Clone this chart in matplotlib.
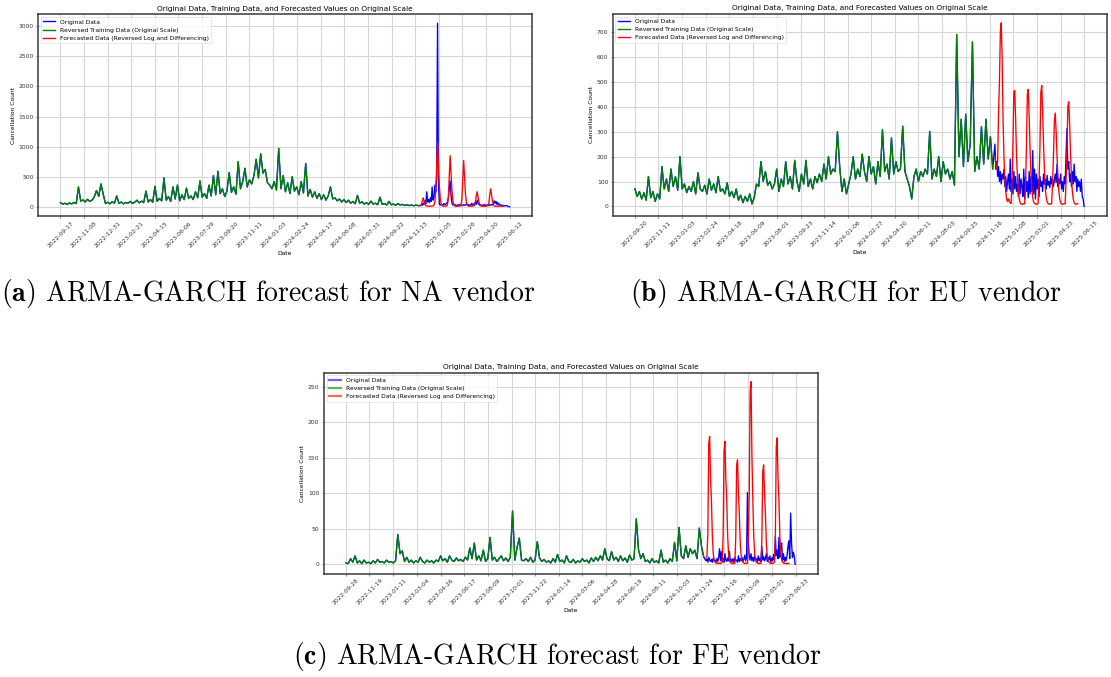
import numpy as np
import pandas as pd
import matplotlib
matplotlib.use("Agg")
import matplotlib.pyplot as plt
from matplotlib.ticker import MultipleLocator

plt.rcParams['mathtext.fontset'] = 'cm'

TITLE = "Original Data, Training Data, and Forecasted Values on Original Scale"
LABELS = ["Original Data", "Reversed Training Data (Original Scale)",
          "Forecasted Data (Reversed Log and Differencing)"]

# ---------------- (a) NA vendor ----------------
na_start = "2022-09-17"
na_ticks = ["2022-09-17", "2022-11-08", "2022-12-31", "2023-02-21", "2023-04-15",
            "2023-06-06", "2023-07-29", "2023-09-20", "2023-11-11", "2024-01-03",
            "2024-02-24", "2024-04-17", "2024-06-08", "2024-07-31", "2024-09-22",
            "2024-11-13", "2025-01-05", "2025-02-26", "2025-04-20", "2025-06-12"]
# training values, every 5 days
na_train = [70, 45, 60, 38, 65, 48, 72, 55, 330, 95,
            115, 80, 125, 90, 110, 160, 270, 175, 380, 210,
            55, 75, 50, 85, 60, 180, 55, 80, 50, 72,
            60, 90, 55, 75, 110, 65, 95, 70, 260, 80,
            120, 75, 340, 90, 140, 100, 480, 110, 170, 90,
            330, 130, 360, 100, 200, 120, 310, 140, 180, 120,
            250, 150, 430, 160, 220, 140, 360, 180, 520, 200,
            590, 220, 300, 170, 260, 570, 240, 330, 210, 750,
            300, 420, 640, 330, 450, 380, 520, 790, 480, 880,
            560, 620, 400, 360, 300, 420, 280, 970, 300, 520,
            250, 400, 220, 500, 260, 330, 200, 420, 230, 720,
            180, 290, 160, 250, 140, 220, 120, 200, 110, 180,
            330, 130, 150, 100, 130, 80, 120, 70, 110, 60,
            90, 50, 190, 60, 85, 45, 70, 40, 95, 45,
            60, 35, 160, 40, 55, 30, 90, 35, 45, 25,
            55, 30, 40, 22, 35, 20, 30, 18, 28, 20]
# test (original) values, every 2 days
na_test = [20, 35, 25, 60, 40, 100, 50, 250, 80, 120,
           70, 150, 90, 330, 110, 150, 360, 250, 500, 3050,
           400, 45, 30, 40, 25, 30, 55, 35, 45, 60,
           80, 150, 300, 430, 180, 60, 30, 40, 25, 35,
           20, 30, 25, 40, 20, 30, 25, 20, 35, 25,
           30, 45, 25, 40, 20, 35, 25, 60, 30, 45,
           50, 80, 40, 110, 60, 40, 25, 35, 20, 30,
           25, 40, 20, 30, 25, 30, 20, 35, 25, 40,
           30, 45, 100, 60, 90, 40, 70, 30, 45, 25,
           30, 20, 25, 15, 20, 15, 20, 10, 5, 0]
# forecast values, every 2 days
na_fc = [20, 40, 90, 150, 100, 40, 20, 15, 12, 10,
         10, 12, 10, 12, 15, 30, 80, 250, 650, 1070,
         700, 350, 150, 50, 20, 12, 10, 12, 10, 15,
         30, 150, 500, 850, 550, 280, 100, 40, 15, 10,
         10, 12, 10, 12, 15, 30, 120, 450, 770, 500,
         220, 80, 30, 15, 10, 10, 12, 10, 12, 15,
         20, 60, 180, 250, 160, 80, 35, 15, 10, 8,
         10, 8, 10, 12, 15, 20, 60, 200, 300, 200,
         100, 40, 15, 10, 8, 10, 8, 10, 12, 10,
         10, 12, 10]

# ---------------- (b) EU vendor ----------------
eu_start = "2022-09-20"
eu_ticks = ["2022-09-20", "2022-11-11", "2023-01-03", "2023-02-24", "2023-04-18",
            "2023-06-09", "2023-08-01", "2023-09-23", "2023-11-14", "2024-01-06",
            "2024-02-27", "2024-04-20", "2024-06-11", "2024-08-03", "2024-09-25",
            "2024-11-16", "2025-01-08", "2025-03-01", "2025-04-23", "2025-06-15"]
eu_train = [70, 40, 60, 30, 55, 25, 120, 35, 60, 20,
            50, 30, 160, 70, 110, 60, 150, 80, 120, 65,
            200, 70, 90, 55, 80, 60, 100, 50, 135, 70,
            60, 85, 50, 110, 65, 90, 55, 120, 60, 70,
            50, 95, 40, 60, 35, 70, 25, 45, 15, 40,
            20, 50, 10, 35, 90, 80, 180, 100, 140, 85,
            100, 70, 90, 150, 60, 110, 80, 180, 90, 120,
            70, 185, 100, 60, 130, 90, 185, 80, 110, 70,
            120, 95, 130, 100, 170, 110, 200, 130, 150, 140,
            300, 160, 60, 110, 50, 90, 130, 200, 110, 150,
            120, 210, 140, 100, 200, 130, 160, 90, 180, 120,
            308, 140, 170, 110, 275, 130, 180, 140, 150, 322,
            140, 110, 80, 30, 120, 150, 100, 140, 120, 150,
            130, 301, 110, 150, 120, 200, 100, 180, 130, 150,
            110, 140, 85, 690, 200, 350, 160, 370, 180, 250,
            660, 140, 200, 150, 320, 170, 350, 190, 280, 150]
eu_test = [250, 150, 180, 120, 160, 100, 140, 90, 130, 110,
           150, 80, 120, 60, 100, 130, 70, 190, 60, 110,
           50, 140, 70, 120, 60, 90, 40, 130, 50, 110,
           80, 40, 150, 30, 120, 60, 100, 35, 140, 50,
           120, 60, 224, 50, 150, 30, 130, 70, 110, 40,
           120, 80, 100, 60, 130, 90, 110, 70, 125, 85,
           100, 75, 120, 90, 110, 80, 105, 130, 95, 170,
           80, 110, 90, 130, 70, 100, 60, 120, 90, 210,
           312, 150, 180, 100, 130, 80, 140, 90, 170, 100,
           120, 60, 110, 80, 100, 60, 110, 40, 30, 0]
eu_fc = [200, 170, 150, 180, 380, 500, 700, 737, 590, 350,
         200, 110, 60, 30, 20, 30, 20, 15, 12, 100,
         250, 460, 465, 350, 200, 120, 60, 30, 15, 10,
         8, 10, 12, 10, 90, 240, 450, 470, 360, 230,
         130, 70, 35, 18, 12, 10, 8, 10, 12, 100,
         240, 460, 485, 380, 250, 140, 70, 35, 18, 12,
         10, 8, 10, 12, 95, 200, 340, 375, 300, 200,
         120, 60, 30, 15, 10, 8, 10, 12, 10, 100,
         220, 400, 420, 330, 210, 120, 60, 30, 15, 10,
         8, 10, 12]

# ---------------- (c) FE vendor ----------------
fe_start = "2022-09-28"
fe_ticks = ["2022-09-28", "2022-11-19", "2023-01-11", "2023-03-04", "2023-04-26",
            "2023-06-17", "2023-08-09", "2023-10-01", "2023-11-22", "2024-01-14",
            "2024-03-06", "2024-04-28", "2024-06-19", "2024-08-11", "2024-10-03",
            "2024-11-24", "2025-01-16", "2025-03-09", "2025-05-01", "2025-06-23"]
fe_train = [2, 1, 8, 3, 12, 2, 5, 1, 6, 2,
            3, 1, 5, 2, 7, 3, 4, 2, 6, 3,
            4, 2, 5, 42, 15, 19, 4, 10, 3, 6,
            2, 5, 3, 10, 4, 2, 6, 3, 5, 2,
            6, 4, 12, 5, 8, 3, 12, 6, 4, 9,
            5, 7, 4, 10, 6, 23, 8, 30, 6, 12,
            5, 20, 4, 8, 38, 6, 10, 4, 8, 12,
            5, 9, 4, 10, 75, 6, 24, 37, 6, 5,
            8, 4, 10, 3, 6, 32, 9, 4, 7, 3,
            5, 2, 8, 3, 14, 4, 6, 2, 12, 4,
            3, 7, 2, 5, 3, 8, 4, 6, 2, 9,
            4, 10, 5, 12, 6, 22, 8, 5, 18, 6,
            10, 4, 12, 5, 9, 3, 13, 6, 8, 64,
            20, 8, 15, 4, 6, 2, 8, 3, 5, 2,
            20, 3, 6, 2, 8, 4, 31, 5, 52, 12,
            8, 26, 10, 22, 15, 20, 8, 51, 25, 10]
fe_test = [5, 8, 3, 10, 6, 4, 7, 3, 9, 5,
           6, 3, 8, 4, 10, 22, 5, 18, 4, 8,
           3, 15, 6, 4, 9, 5, 18, 3, 7, 4,
           8, 3, 10, 5, 6, 3, 12, 4, 8, 5,
           10, 4, 7, 13, 5, 9, 101, 30, 12, 6,
           15, 5, 10, 4, 12, 6, 8, 3, 12, 5,
           9, 4, 25, 6, 11, 5, 8, 15, 4, 10,
           6, 12, 3, 9, 5, 14, 6, 40, 12, 20,
           8, 38, 10, 22, 30, 6, 15, 4, 10, 5,
           12, 25, 33, 8, 72, 30, 10, 17, 12, 0]
fe_fc = [10, 12, 44, 170, 180, 120, 90, 40, 15, 6,
         3, 2, 1, 2, 1, 2, 1, 2, 3, 42,
         160, 173, 120, 90, 40, 15, 6, 3, 2, 1,
         2, 1, 2, 37, 140, 147, 100, 70, 30, 12,
         5, 3, 2, 1, 2, 1, 2, 40, 100, 243,
         257, 150, 90, 40, 15, 6, 3, 2, 1, 2,
         1, 2, 35, 130, 140, 100, 70, 30, 12, 5,
         3, 2, 1, 2, 1, 2, 3, 35, 165, 178,
         120, 90, 40, 15, 6, 3, 2, 1, 2, 1,
         1, 2, 1]

CAPTIONS = [r"$\mathbf{(a)}$ ARMA-GARCH forecast for NA vendor",
            r"$\mathbf{(b)}$ ARMA-GARCH for EU vendor",
            r"$\mathbf{(c)}$ ARMA-GARCH forecast for FE vendor"]

W, H = 1111, 677
fig = plt.figure(figsize=(W / 100, H / 100), dpi=100)

FS = 4.3
LW = 0.95


def panel(rect_px, start, ticks, train, test, fc, ystep, faded_legend=False):
    l, t, w, h = rect_px
    ax = fig.add_axes([l / W, 1 - (t + h) / H, w / W, h / H])
    start = pd.Timestamp(start)
    train_dates = pd.date_range(start, periods=len(train), freq="5D")
    test_start = start + pd.Timedelta(days=800)
    test_dates = pd.date_range(test_start, periods=len(test), freq="2D")
    fc_dates = pd.date_range(test_start, periods=len(fc), freq="2D")
    all_dates = train_dates.append(test_dates)
    ax.plot(all_dates, list(train) + list(test), color="blue", lw=LW, label=LABELS[0])
    ax.plot(train_dates, train, color="green", lw=LW, label=LABELS[1])
    ax.plot(fc_dates, fc, color="red", lw=LW, label=LABELS[2])
    ax.set_xticks(pd.to_datetime(ticks))
    ax.set_xticklabels(ticks, rotation=45, fontsize=FS)
    ax.yaxis.set_major_locator(MultipleLocator(ystep))
    ax.tick_params(axis="both", labelsize=FS, length=1.6, width=0.4, pad=1.5,
                   colors="#333333")
    ax.grid(True, color="#d6d6d6", lw=0.8)
    ax.set_axisbelow(True)
    for s in ax.spines.values():
        s.set_linewidth(1.1)
        s.set_color("#3a3a3a")
    ax.set_title(TITLE, fontsize=5.3, pad=2.5)
    ax.set_xlabel("Date", fontsize=FS, labelpad=1.5)
    ax.set_ylabel("Cancellation Count", fontsize=FS, labelpad=1.8)
    leg = ax.legend(loc="upper left", fontsize=FS, borderaxespad=0.5,
                    framealpha=0.8, edgecolor="#cccccc")
    leg.get_frame().set_linewidth(0.4)
    for ln in leg.get_lines():
        ln.set_linewidth(1.0)
        if faded_legend:
            ln.set_linewidth(1.6)
            ln.set_alpha(0.6)
    return ax


panel((38, 14, 494, 202), na_start, na_ticks, na_train, na_test, na_fc, 500)
panel((612.5, 13.6, 494, 202), eu_start, eu_ticks, eu_train, eu_test, eu_fc, 100)
panel((323.6, 372.5, 494, 201), fe_start, fe_ticks, fe_train, fe_test, fe_fc, 50,
      faded_legend=True)

cap_kw = dict(fontsize=20, family="cmr10", ha="center", va="baseline")
fig.text(268 / W, 1 - 301 / H, CAPTIONS[0], **cap_kw)
fig.text(846 / W, 1 - 301 / H, CAPTIONS[1], **cap_kw)
fig.text(557 / W, 1 - 664 / H, CAPTIONS[2], **cap_kw)

fig.savefig("out.png", dpi=100)
